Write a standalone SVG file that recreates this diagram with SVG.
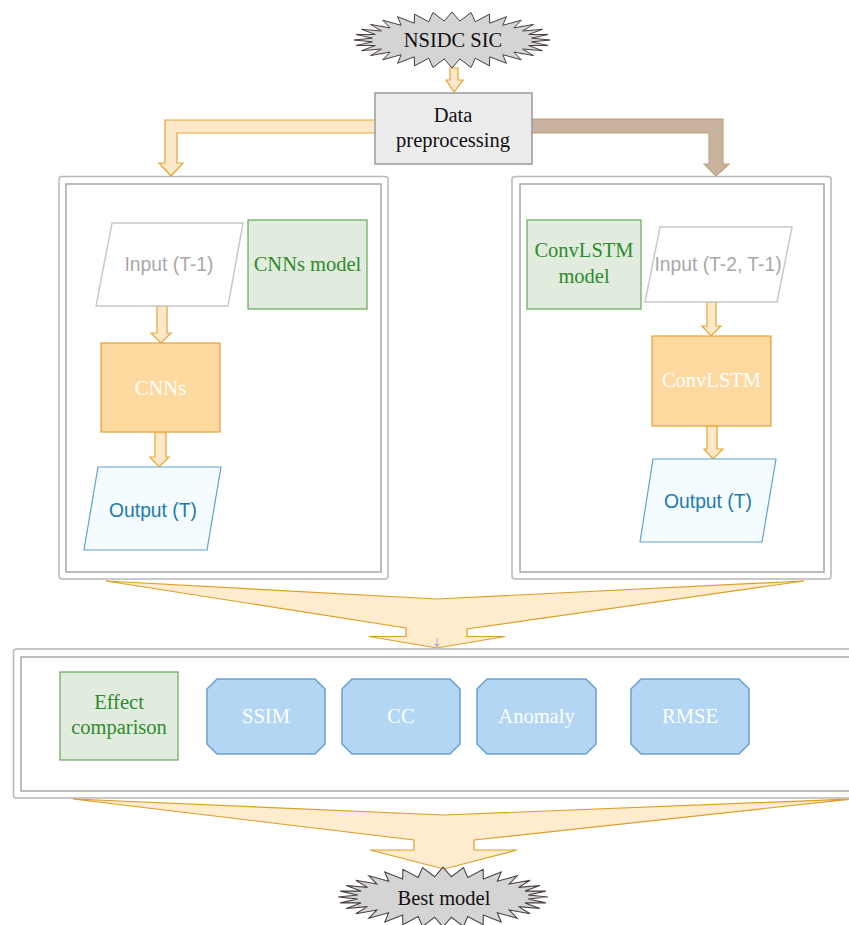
<svg xmlns="http://www.w3.org/2000/svg" xmlns:xlink="http://www.w3.org/1999/xlink" width="849" height="925" viewBox="0 0 849 925">
<style>
.serif{font-family:"Liberation Serif","Times New Roman",serif;font-size:20.5px;text-anchor:middle}
.sans{font-family:"Liberation Sans",Arial,sans-serif;font-size:19.3px;text-anchor:middle}
.frameOut{fill:#fff;stroke:#b8b8b8;stroke-width:1.5}
.frameIn{fill:none;stroke:#a6a6a6;stroke-width:1.5}
.arrowO{fill:#ffe8c8;stroke:#e3a535;stroke-width:1.2}
.merge{fill:#ffebcd;stroke:#dca028;stroke-width:1.2}
.brown{fill:#c9b39e;stroke:#bfa27c;stroke-width:1.2}
.green{fill:#e1ecdf;stroke:#64a858;stroke-width:1.2}
.greenT{fill:#2e8b2e}
.orangeBox{fill:#fdd9a0;stroke:#e2a23a;stroke-width:1.2}
.inp{fill:#fff;stroke:#c8c8c8;stroke-width:1.5}
.inpT{fill:#a8a8a8}
.out{fill:#f5fcff;stroke:#5fa3cc;stroke-width:1.2}
.outT{fill:#1b7bb0}
.blue{fill:#b3d6f5;stroke:#6aa0cf;stroke-width:1.5;stroke-linejoin:round}
.white{fill:#ffffff}
.star{fill:#d4d4d4;stroke:#4a4040;stroke-width:1}
.proc{fill:#ececec;stroke:#9a9a9a;stroke-width:1.5}
</style>
<defs>
<polygon id="burst" points="98,0 79.6,1.9 96.1,5.5 76.6,5.5 90.5,10.7 70.6,9 81.5,15.6 61.8,12.1 69.3,19.8 50.8,14.7 54.4,23.3 37.7,16.8 37.5,25.9 23.2,18.2 19.1,27.5 7.8,18.9 0,28 -7.8,18.9 -19.1,27.5 -23.2,18.2 -37.5,25.9 -37.7,16.8 -54.4,23.3 -50.8,14.7 -69.3,19.8 -61.8,12.1 -81.5,15.6 -70.6,9 -90.5,10.7 -76.6,5.5 -96.1,5.5 -79.6,1.9 -98,0 -79.6,-1.9 -96.1,-5.5 -76.6,-5.5 -90.5,-10.7 -70.6,-9 -81.5,-15.6 -61.8,-12.1 -69.3,-19.8 -50.8,-14.7 -54.4,-23.3 -37.7,-16.8 -37.5,-25.9 -23.2,-18.2 -19.1,-27.5 -7.8,-18.9 0,-28 7.8,-18.9 19.1,-27.5 23.2,-18.2 37.5,-25.9 37.7,-16.8 54.4,-23.3 50.8,-14.7 69.3,-19.8 61.8,-12.1 81.5,-15.6 70.6,-9 90.5,-10.7 76.6,-5.5 96.1,-5.5 79.6,-1.9"/>
</defs>
<rect width="849" height="925" fill="#fff"/>

<g id="cnn-container">
<rect class="frameOut" x="59" y="176.5" width="329" height="402.5" rx="3"/>
<rect class="frameIn" x="66" y="184" width="315" height="388"/>
</g>
<g id="convlstm-container">
<rect class="frameOut" x="512" y="176.5" width="319" height="402.5" rx="3"/>
<rect class="frameIn" x="520" y="184" width="304" height="388"/>
</g>
<g id="evaluation-container">
<rect class="frameOut" x="13.5" y="649" width="850" height="149" rx="3"/>
<rect class="frameIn" x="21" y="657" width="840" height="134"/>
</g>

<g id="connectors">
<polygon class="arrowO" points="450,68 458,68 458,80 463,80 454,92 446,80 450,80"/>
<polygon class="arrowO" points="376,120 165,120 165,163 159,163 171,176 183,163 177,163 177,133 376,133"/>
<polygon class="brown" points="531,119 723,119 723,164 729,164 716,176 704,164 709,164 709,133 531,133"/>
<polygon class="arrowO" points="157,306 167,306 167,333 171,333 161,343 151,333 157,333"/>
<polygon class="arrowO" points="155,432 166,432 166,457 169,457 159,467 150,457 155,457"/>
<polygon class="arrowO" points="707,302 716,302 716,326 721,326 711,336 702,326 707,326"/>
<polygon class="arrowO" points="707,426 717,426 717,449 723,449 713,459 704,449 707,449"/>
<polygon class="merge" points="106,581 437,599 804,581 467,629 467,636.5 505,636.5 437,648 369,636.5 406,636.5 406,628"/>
<line x1="437" y1="638" x2="437" y2="645" stroke="#b8b8b8" stroke-width="1.2"/>
<polygon points="434,644 440,644 437,648" fill="#b8b8b8"/>
<polygon class="merge" points="73,799 444,815 852,799 474,840 474,850 517,850 444,869 370,850 414,850 414,840"/>
</g>

<g id="nsidc-sic">
<use xlink:href="#burst" class="star" transform="translate(452,40)"/>
<text class="serif" x="453" y="47" fill="#111">NSIDC SIC</text>
</g>
<g id="data-preprocessing">
<rect class="proc" x="375" y="93" width="157" height="71"/>
<text class="serif" x="453" y="122" fill="#111">Data</text>
<text class="serif" x="453" y="147" fill="#111">preprocessing</text>
</g>

<g id="input-t1">
<polygon class="inp" points="112,223 243,223 228,306 96,306"/>
<text class="sans inpT" x="169" y="271">Input (T-1)</text>
</g>
<g id="cnns-model">
<rect class="green" x="248" y="220" width="119" height="89"/>
<text class="serif greenT" x="307.5" y="271">CNNs model</text>
</g>
<g id="cnns">
<rect class="orangeBox" x="101" y="343" width="119" height="89"/>
<text class="serif white" x="160.5" y="395">CNNs</text>
</g>
<g id="output-cnn">
<polygon class="out" points="98,467 221,467 207,550 84,550"/>
<text class="sans outT" x="153" y="517">Output (T)</text>
</g>

<g id="convlstm-model">
<rect class="green" x="527" y="220" width="114" height="89"/>
<text class="serif greenT" x="584" y="257">ConvLSTM</text>
<text class="serif greenT" x="584" y="283">model</text>
</g>
<g id="input-t2-t1">
<polygon class="inp" points="660,227 792,227 777,302 645,302"/>
<text class="sans inpT" x="718" y="271">Input (T-2, T-1)</text>
</g>
<g id="convlstm">
<rect class="orangeBox" x="652" y="336" width="119" height="90"/>
<text class="serif white" x="711.5" y="387">ConvLSTM</text>
</g>
<g id="output-convlstm">
<polygon class="out" points="653,459 776,459 762,542 640,542"/>
<text class="sans outT" x="708" y="508">Output (T)</text>
</g>

<g id="effect-comparison">
<rect class="green" x="60" y="672" width="118" height="88"/>
<text class="serif greenT" x="119" y="709">Effect</text>
<text class="serif greenT" x="119" y="734">comparison</text>
</g>
<g id="ssim">
<path class="blue" d="M217,679 H315 L325,689 V744 L315,754 H217 L207,744 V689 Z"/>
<text class="serif white" x="266" y="723">SSIM</text>
</g>
<g id="cc">
<path class="blue" d="M352,679 H450 L460,689 V744 L450,754 H352 L342,744 V689 Z"/>
<text class="serif white" x="401" y="723">CC</text>
</g>
<g id="anomaly">
<path class="blue" d="M487,679 H586 L596,689 V744 L586,754 H487 L477,744 V689 Z"/>
<text class="serif white" x="536.5" y="723">Anomaly</text>
</g>
<g id="rmse">
<path class="blue" d="M641,679 H739 L749,689 V744 L739,754 H641 L631,744 V689 Z"/>
<text class="serif white" x="690" y="723">RMSE</text>
</g>

<g id="best-model">
<use xlink:href="#burst" class="star" transform="translate(443,897) scale(1.07)"/>
<text class="serif" x="444" y="905" fill="#111">Best model</text>
</g>
</svg>
